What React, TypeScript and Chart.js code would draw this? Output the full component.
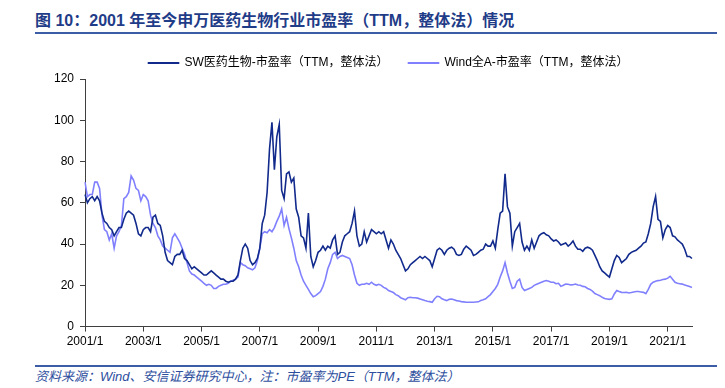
import React, { useEffect, useRef } from "react";
import { Chart, registerables } from "chart.js";

Chart.register(...registerables);

// Monthly categories 2001/1 ... 2021/11
const startYear = 2001;
const monthCount = 251;
const categories: string[] = [];
for (let i = 0; i < monthCount; i++) {
  categories.push(`${startYear + Math.floor(i / 12)}/${(i % 12) + 1}`);
}

const tickLabels = ["2001/1", "2003/1", "2005/1", "2007/1", "2009/1", "2011/1", "2013/1", "2015/1", "2017/1", "2019/1", "2021/1"];
const yTicks = [0, 20, 40, 60, 80, 100, 120];

const seriesNames = ["SW医药生物-市盈率（TTM，整体法）", "Wind全A-市盈率（TTM，整体法）"];

// SW医药生物 PE (TTM), one value per month
const swPE = [
  64, 60, 62, 63, 61, 63, 61, 55, 51, 50, 48, 47, // 2001
  44, 46, 48, 48, 52, 55, 56, 55, 54, 50, 45, 44, // 2002
  47, 48, 48, 46, 53, 54, 50, 49, 44, 36, 32, 31, // 2003
  30, 34, 35, 35, 37, 33, 32, 30, 28, 29, 28, 27, // 2004
  26, 25, 25, 26, 27, 26, 25, 24, 23, 23, 22, 21.5, // 2005
  22, 22, 23, 25, 32, 38, 40, 38, 32, 30, 31, 33, // 2006
  38, 50, 54, 65, 86, 99, 76, 92, 98, 66, 62, 74, // 2007
  75, 70, 72, 57, 53, 44, 43, 38, 55, 34, 29, 32, // 2008
  36, 37, 39, 37, 39, 38, 42, 44, 35, 36, 41, 44, // 2009
  45, 46, 50, 56, 44, 39, 40, 46, 41, 44, 47, 46, // 2010
  45, 46, 45, 46, 42, 38, 42, 40, 37, 35, 33, 30, // 2011
  27, 28, 30, 31, 32, 33, 34, 33, 34, 33, 32, 29, // 2012
  33, 37, 38, 37, 35, 37, 38, 38.5, 37.5, 35, 34.5, 35, // 2013
  37.5, 39, 38, 37, 34.5, 35, 36, 37, 37.5, 40, 39, 39, // 2014
  41.5, 38, 47, 55, 56, 74, 58, 55, 39, 46, 48, 50, // 2015
  41, 37, 39, 37, 42, 38, 41, 44, 45, 45.5, 44.5, 44, // 2016
  42.5, 41.5, 42, 41, 39.5, 40, 40.5, 39, 40, 41.5, 39, 37.5, // 2017
  37.5, 36.5, 38, 38.5, 38, 37, 34.5, 32, 29, 27, 26, 25, // 2018
  24, 28, 32, 34.5, 33.5, 31, 32, 33, 35, 36, 36.5, 37, // 2019
  38, 39, 40.5, 41, 45, 50, 58, 63, 52, 51, 43, 47, // 2020
  49, 48, 44, 43.5, 42, 41, 40, 37.5, 34, 34, 33, // 2021
];

// Wind全A PE (TTM), one value per month
const windPE = [
  70, 63, 64, 64, 70, 70, 67, 54, 47, 46, 42, 45, // 2001
  38, 44, 46, 49, 62, 63, 65, 73, 71, 67, 66, 61, // 2002
  64, 63, 61, 54, 50, 48, 44, 42, 39, 38, 37, 36, // 2003
  43, 45, 43, 41, 38, 35, 31, 27, 25.5, 25, 24, 23, // 2004
  22, 21, 20, 20.5, 20, 18.5, 18.5, 19.5, 20, 20.5, 20.5, 21, // 2005
  22, 22.5, 23, 24, 31, 30, 29.5, 28.5, 28, 27.5, 28.5, 32, // 2006
  38, 45, 46, 45.5, 47, 46, 48, 51, 53.5, 57, 49, 53, // 2007
  47.5, 43, 38, 32, 29, 25, 22, 20, 18, 16, 14.5, 15, // 2008
  16, 17, 19.5, 23, 28, 31, 35, 36, 33, 34, 34.5, 34, // 2009
  33.5, 33, 30, 25, 21, 20, 20.5, 20.5, 21, 20.5, 21.5, 20.5, // 2010
  20, 20.5, 20, 19, 18.5, 17.5, 17, 16.5, 15.5, 15, 14, 13.5, // 2011
  13, 14, 14.2, 14, 14, 13.8, 13.4, 13, 12.6, 12.3, 12.1, 11.8, // 2012
  13.5, 14.7, 14.5, 13.5, 13, 12.6, 13.2, 13.4, 13, 12.6, 12.4, 12.1, // 2013
  12, 11.8, 11.8, 11.8, 11.8, 11.9, 12, 12.6, 13, 13.5, 14.5, 15.5, // 2014
  17, 18.5, 20.5, 24, 27, 31, 26, 22, 18.5, 19, 22, 23, // 2015
  19, 17.5, 18, 18.5, 19, 20, 20.5, 21, 21.5, 22, 22.3, 22, // 2016
  21.5, 21.5, 20.8, 21, 19.5, 20, 20.6, 20.5, 20.2, 20.3, 20.6, 20.2, // 2017
  20, 19.5, 19.3, 18.5, 18, 17.2, 16, 15.5, 15, 14.2, 13.6, 13.4, // 2018
  13.2, 13.5, 15.8, 17.5, 17, 16.6, 16.5, 16.6, 16.3, 16.5, 16.8, 17, // 2019
  17, 16.8, 16.6, 16, 18, 20.5, 21.5, 22, 22.3, 22.5, 22.8, 23, // 2020
  23.5, 24.4, 23, 21.5, 21, 20.8, 20.6, 20.2, 19.8, 19.4, 19, // 2021
];

const FONT = '"Liberation Sans", Arial, "Noto Sans CJK SC", sans-serif';
const AXIS = "#404040";
const SW_COLOR = "#112a8c";
const WIND_COLOR = "#8080ff";

export default function App() {
  const ref = useRef<HTMLCanvasElement>(null);

  useEffect(() => {
    if (!ref.current) return;
    const chart = new Chart(ref.current, {
      type: "line",
      data: {
        labels: categories,
        datasets: [
          {
            label: seriesNames[0],
            data: swPE,
            borderColor: SW_COLOR,
            backgroundColor: SW_COLOR,
            borderWidth: 1.6,
            pointRadius: 0,
            tension: 0,
          },
          {
            label: seriesNames[1],
            data: windPE,
            borderColor: WIND_COLOR,
            backgroundColor: WIND_COLOR,
            borderWidth: 1.6,
            pointRadius: 0,
            tension: 0,
          },
        ],
      },
      options: {
        animation: false,
        responsive: false,
        maintainAspectRatio: false,
        layout: { padding: { left: 0, right: 33, top: 5, bottom: 5 } },
        plugins: {
          legend: {
            position: "top",
            fullSize: false,
            labels: {
              boxWidth: 30,
              boxHeight: 0.5,
              padding: 20,
              color: "#000",
              font: { size: 12, family: FONT },
            },
          },
          tooltip: { enabled: false },
        },
        scales: {
          x: {
            type: "category",
            offset: false,
            grid: { drawOnChartArea: false, drawTicks: true, tickLength: 5, color: AXIS },
            border: { color: AXIS, width: 1 },
            ticks: {
              autoSkip: false,
              maxRotation: 0,
              minRotation: 0,
              padding: 3,
              color: "#000",
              font: { size: 12, family: FONT },
              callback: (_v: any, i: number) => (tickLabels.includes(categories[i]) ? categories[i] : null),
            },
          },
          y: {
            min: yTicks[0],
            max: yTicks[yTicks.length - 1],
            grid: { drawOnChartArea: false, drawTicks: true, tickLength: 5, color: AXIS },
            border: { color: AXIS, width: 1 },
            ticks: {
              stepSize: yTicks[1] - yTicks[0],
              padding: 6,
              color: "#000",
              font: { size: 12, family: FONT },
            },
            afterFit: (s: any) => {
              s.width = 85;
            },
          },
        },
      },
    } as any);
    return () => chart.destroy();
  }, []);

  return (
    <div
      style={{
        position: "absolute",
        left: 0,
        top: 0,
        width: 725,
        height: 388,
        background: "#fff",
        overflow: "hidden",
        fontFamily: FONT,
      }}
    >
      <div
        style={{
          position: "absolute",
          left: 35,
          top: 11,
          fontSize: 16,
          fontWeight: "bold",
          color: "#1f3c88",
          letterSpacing: 0,
          whiteSpace: "nowrap",
          lineHeight: "20px",
        }}
      >
        图 10：2001 年至今申万医药生物行业市盈率（TTM，整体法）情况
      </div>
      <div style={{ position: "absolute", left: 35, top: 32, width: 682, height: 2, background: "#3a5da6" }} />
      <canvas ref={ref} width={725} height={325} style={{ position: "absolute", left: 0, top: 32, width: 725, height: 325 }} />
      <div style={{ position: "absolute", left: 35, top: 365, width: 682, height: 2, background: "#3a5da6" }} />
      <div
        style={{
          position: "absolute",
          left: 35,
          top: 369,
          fontSize: 13,
          fontStyle: "italic",
          color: "#2e4f9e",
          whiteSpace: "nowrap",
          lineHeight: "16px",
        }}
      >
        资料来源：Wind、安信证券研究中心，注：市盈率为PE（TTM，整体法）
      </div>
    </div>
  );
}
